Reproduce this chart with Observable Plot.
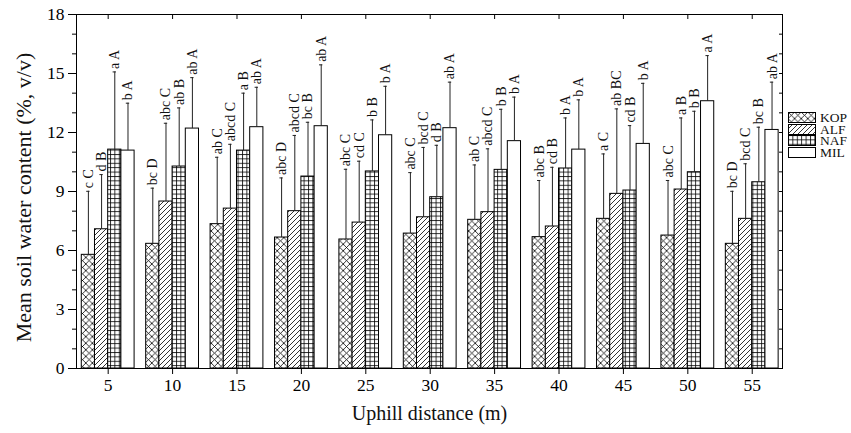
<!DOCTYPE html>
<html><head><meta charset="utf-8">
<script src="https://cdn.jsdelivr.net/npm/d3@7"></script>
<script src="https://cdn.jsdelivr.net/npm/@observablehq/plot@0.6"></script>
<style>
body{margin:0;background:#fff;font-family:"Liberation Serif","Times New Roman",serif;}
#wrap{position:relative;width:851px;height:433px;overflow:hidden;}
#legend{position:absolute;left:788px;top:112px;font-size:13.5px;color:#111;}
.row{display:flex;align-items:center;height:11.5px;line-height:11px;}
.row svg{margin-right:4px;display:block;}
</style></head><body>
<svg width="0" height="0" style="position:absolute">
<defs>
<pattern id="p-kop" patternUnits="userSpaceOnUse" width="6.6" height="6.6"><rect width="6.6" height="6.6" fill="white"/><path d="M0,0L6.6,6.6M6.6,0L0,6.6" stroke="black" stroke-width="0.8"/></pattern>
<pattern id="p-alf" patternUnits="userSpaceOnUse" width="5" height="5"><rect width="5" height="5" fill="white"/><path d="M0,5L5,0M-1,1L1,-1M4,6L6,4" stroke="black" stroke-width="0.8"/></pattern>
<pattern id="p-naf" patternUnits="userSpaceOnUse" width="4.4" height="4.4"><rect width="4.4" height="4.4" fill="white"/><path d="M0,0.5H4.4M0.5,0V4.4" stroke="black" stroke-width="0.8"/></pattern>
</defs></svg>
<div id="wrap"><div id="chart"></div><div id="legend"></div></div>
<script>
const distances = [5, 10, 15, 20, 25, 30, 35, 40, 45, 50, 55];
const seriesNames = ["KOP", "ALF", "NAF", "MIL"];

const kopMean = [5.78, 6.34, 7.34, 6.66, 6.56, 6.86, 7.56, 6.68, 7.61, 6.76, 6.34];
const alfMean = [7.08, 8.49, 8.13, 8.00, 7.42, 7.69, 7.95, 7.22, 8.88, 9.10, 7.61];
const nafMean = [11.13, 10.27, 11.08, 9.76, 10.02, 8.71, 10.10, 10.17, 9.05, 9.98, 9.47];
const milMean = [11.08, 12.20, 12.27, 12.32, 11.86, 12.22, 11.56, 11.13, 11.42, 13.59, 12.13];

const kopErr = [3.23, 2.83, 3.40, 3.03, 3.57, 3.10, 2.79, 2.88, 3.30, 2.80, 2.67];
const alfErr = [2.78, 3.98, 3.27, 3.85, 3.12, 3.55, 3.22, 3.01, 4.32, 3.64, 2.80];
const nafErr = [3.95, 2.98, 2.92, 2.76, 2.62, 2.64, 3.08, 2.57, 3.30, 3.10, 2.80];
const milErr = [2.41, 2.59, 2.03, 3.12, 2.49, 2.34, 2.24, 2.53, 3.08, 2.32, 2.43];

const kopLetters = ["c C", "bc D", "ab C", "abc D", "abc C", "abc C", "ab C", "abc B", "a C", "abc C", "bc D"];
const alfLetters = ["d B", "abc C", "abcd C", "abcd C", "cd C", "bcd C", "abcd C", "cd B", "ab BC", "a B", "bcd C"];
const nafLetters = ["a A", "ab B", "a B", "bc B", "b B", "d B", "b B", "b A", "cd B", "b B", "bc B"];
const milLetters = ["b A", "ab A", "ab A", "ab A", "b A", "ab A", "b A", "b A", "b A", "a A", "ab A"];

const yTicks = [0, 3, 6, 9, 12, 15, 18];
const xTitle = "Uphill distance (m)";
const yTitle = "Mean soil water content (%, v/v)";

const means = [kopMean, alfMean, nafMean, milMean];
const errs = [kopErr, alfErr, nafErr, milErr];
const letters = [kopLetters, alfLetters, nafLetters, milLetters];
const fills = {KOP: "url(#p-kop)", ALF: "url(#p-alf)", NAF: "url(#p-naf)", MIL: "white"};

// bar width in x-units: the group of four bars fills 82% of the 5 m step
const bw = 5 * 0.82 / 4;
const rows = [];
seriesNames.forEach((s, i) => {
  distances.forEach((d, j) => {
    const x1 = d + (i - 2) * bw;
    rows.push({s, i, d, x1, x2: x1 + bw, cx: x1 + bw / 2, mean: means[i][j], top: means[i][j] + errs[i][j], letter: letters[i][j]});
  });
});
const cap = 0.13;
const minor = d3.range(0, 19, 1);

const chart = Plot.plot({
  width: 851, height: 433,
  marginLeft: 76, marginRight: 69, marginTop: 14, marginBottom: 65,
  style: {fontFamily: "Liberation Serif, Times New Roman, serif", color: "black", background: "white"},
  x: {type: "linear", domain: [2.54, 57.35]},
  y: {domain: [0, 18]},
  marks: [
    ...seriesNames.map(s => Plot.rectY(rows.filter(r => r.s === s), {x1: "x1", x2: "x2", y1: 0, y2: "mean", fill: fills[s], stroke: "black", strokeWidth: 1})),
    Plot.ruleX(rows, {x: "cx", y1: "mean", y2: "top", stroke: "#222", strokeWidth: 1}),
    Plot.ruleY(rows, {y: "top", x1: r => r.cx - cap, x2: r => r.cx + cap, stroke: "#222", strokeWidth: 1}),
    Plot.text(rows, {x: "cx", y: "top", text: "letter", rotate: -90, textAnchor: "start", dy: -3, fontSize: 14, fill: "#111"}),
    Plot.axisY({ticks: yTicks, tickSize: 8, tickPadding: 4, fontSize: 17.5, label: null}),
    Plot.axisY({ticks: minor, tickSize: 4, tickFormat: () => "", label: null}),
    Plot.axisY({anchor: "right", ticks: minor, tickSize: -4, tickFormat: () => "", label: null}),
    Plot.axisX({ticks: distances, tickSize: 6, tickPadding: 4, fontSize: 17.5, label: null}),
    Plot.axisX({anchor: "top", ticks: distances, tickSize: -4, tickFormat: () => "", label: null}),
    Plot.frame({stroke: "black", strokeWidth: 1}),
    Plot.text([yTitle], {frameAnchor: "left", dx: -53, dy: 6, rotate: -90, textAnchor: "middle", lineAnchor: "middle", fontSize: 22, fill: "#111"}),
    Plot.text([xTitle], {frameAnchor: "bottom", dy: 45, textAnchor: "middle", lineAnchor: "middle", fontSize: 20, fill: "#111"})
  ]
});
document.getElementById("chart").appendChild(chart);

const legend = d3.select("#legend");
seriesNames.forEach(s => {
  const row = legend.append("div").attr("class", "row");
  const sw = row.append("svg").attr("width", 28).attr("height", 11);
  sw.append("rect").attr("x", 0.5).attr("y", 0.5).attr("width", 27).attr("height", 10)
    .attr("fill", fills[s]).attr("stroke", "black").attr("stroke-width", 1);
  row.append("span").text(s);
});
</script>
</body></html>
